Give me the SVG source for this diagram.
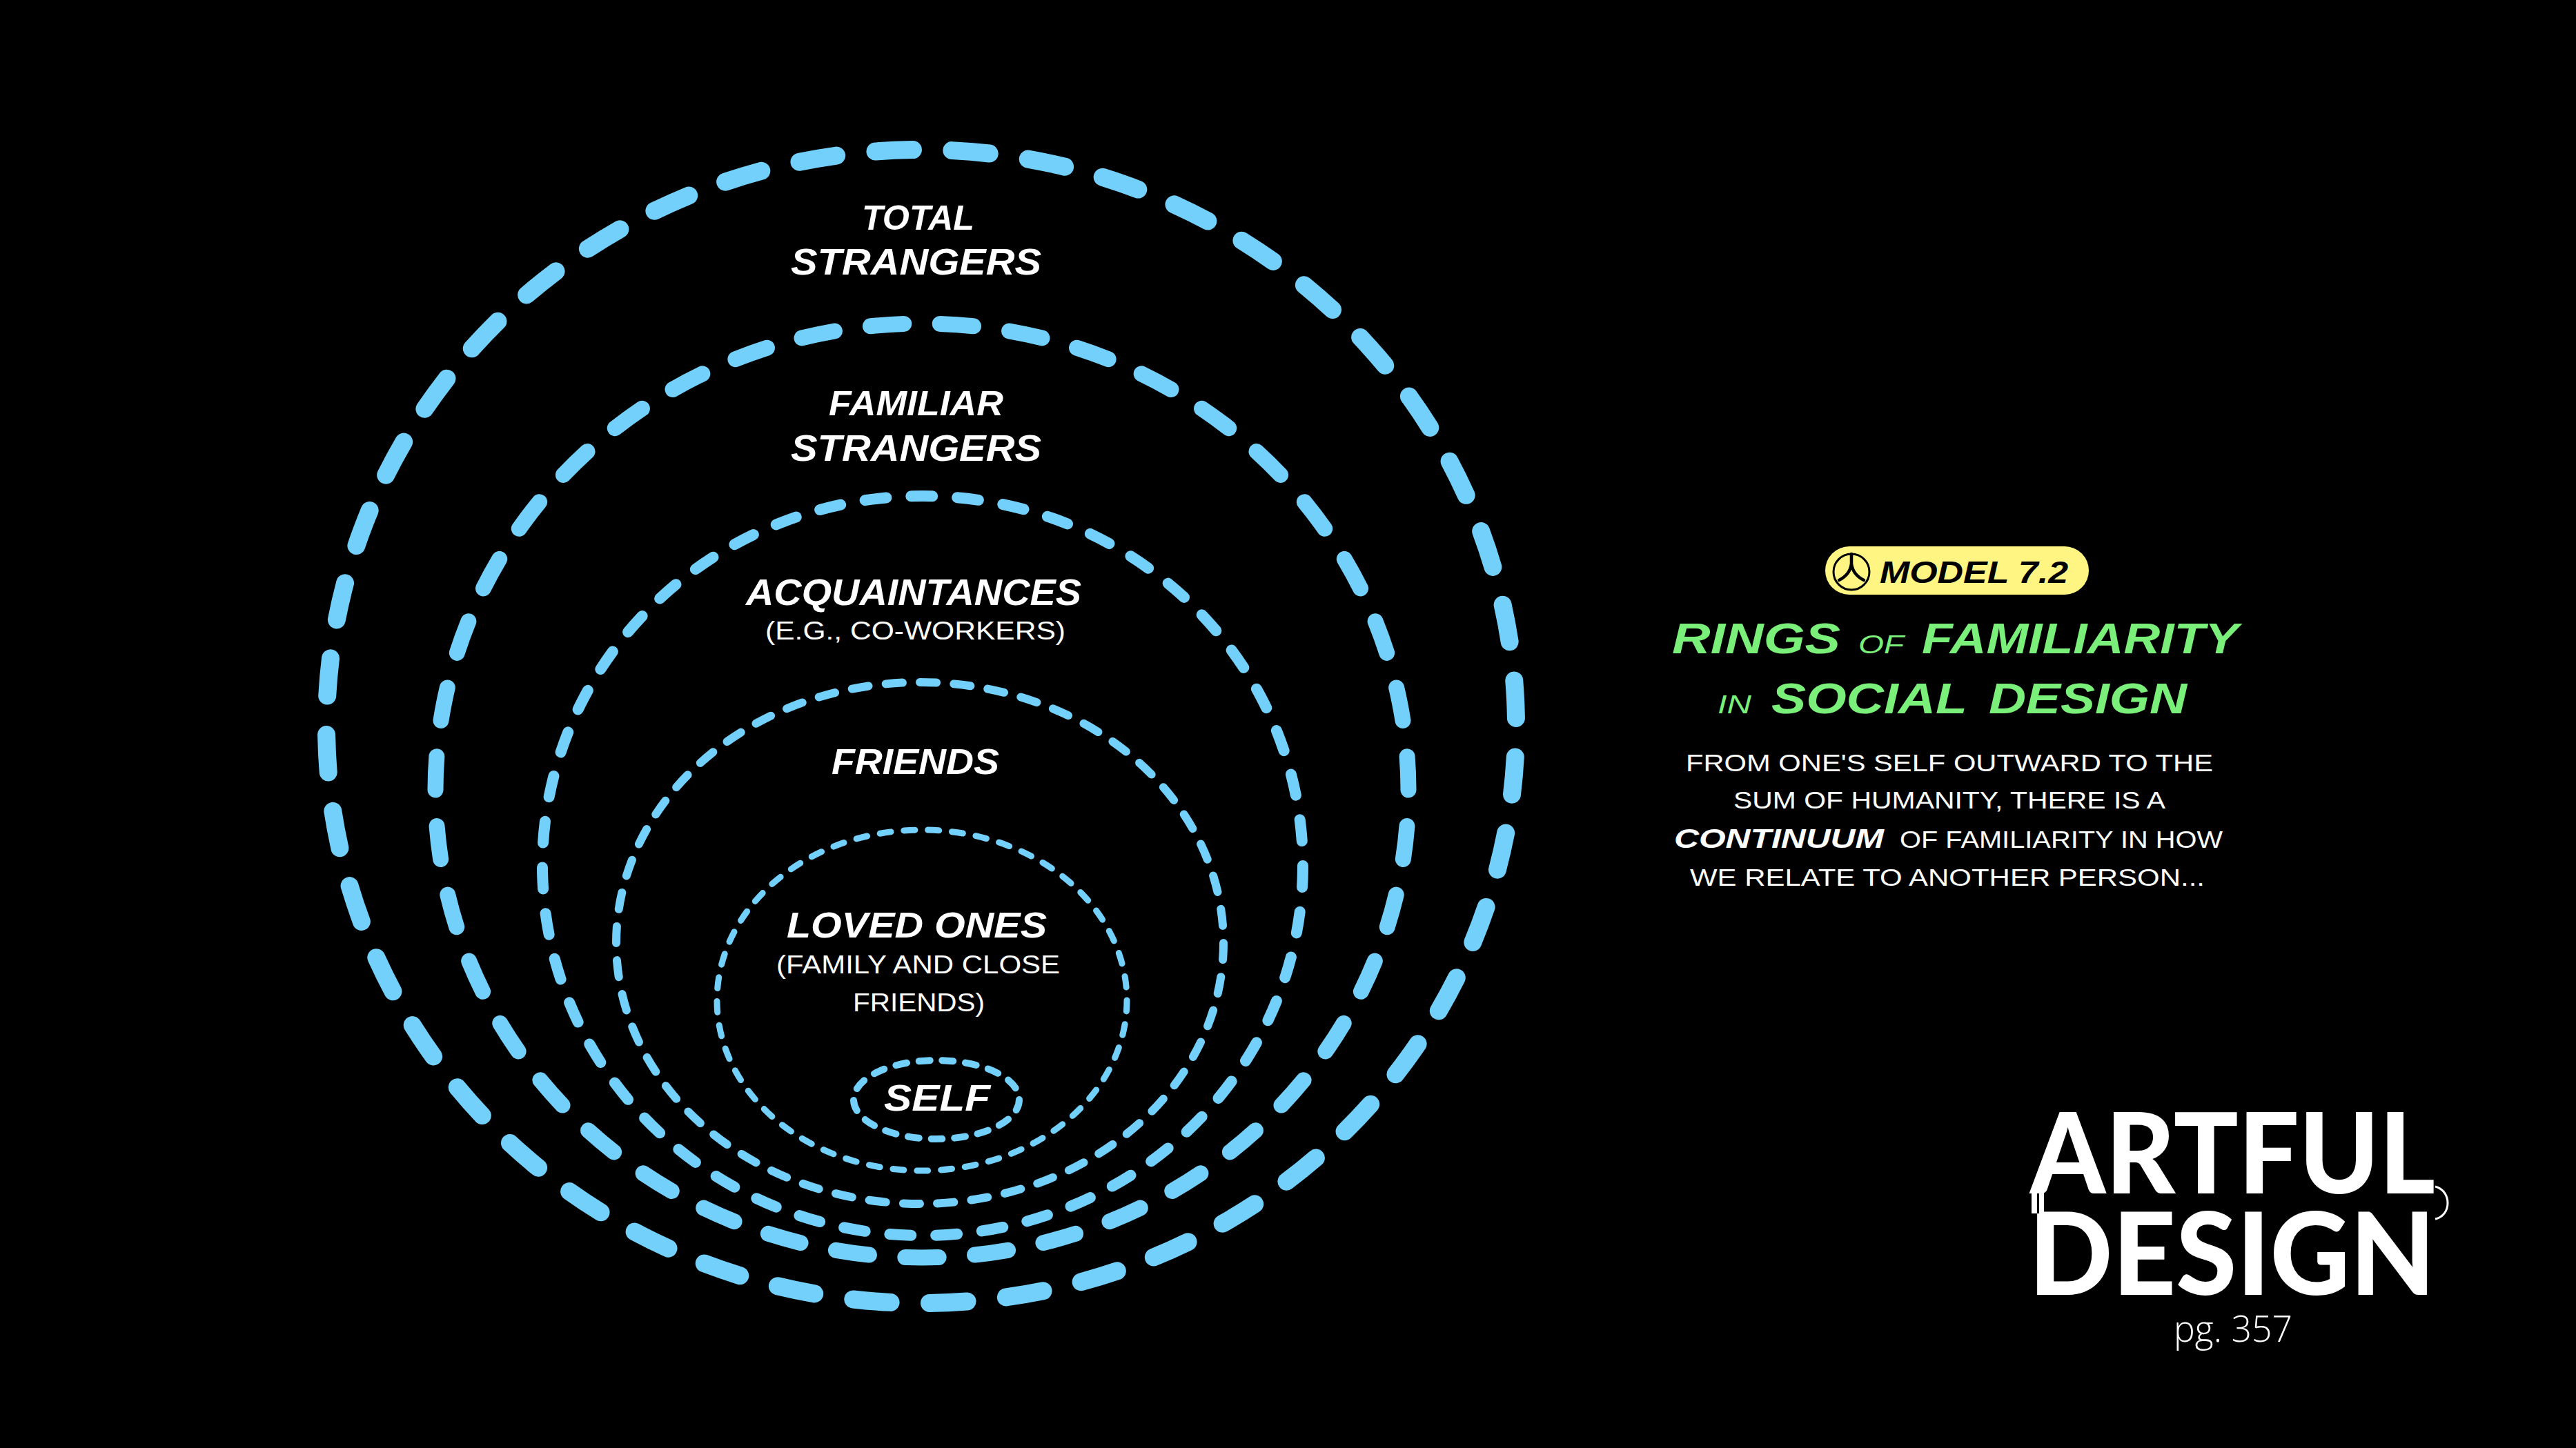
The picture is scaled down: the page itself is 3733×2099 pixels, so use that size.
<svg xmlns="http://www.w3.org/2000/svg" width="3733" height="2099" viewBox="0 0 3733 2099">
<style>
.ring{fill:none;stroke:#72D0FA;stroke-linecap:round}
.lbl{font-family:"Liberation Sans","DejaVu Sans",sans-serif;font-weight:bold;font-style:italic;fill:#fff}
.sub{font-family:"Liberation Sans","DejaVu Sans",sans-serif;font-weight:normal;fill:#fff}
.ttl{font-family:"Liberation Sans","DejaVu Sans",sans-serif;font-weight:bold;font-style:italic;fill:#7AF07A}
.ttls{font-family:"Liberation Sans","DejaVu Sans",sans-serif;font-weight:normal;font-style:italic;fill:#7AF07A}
.body{font-family:"Liberation Sans","DejaVu Sans",sans-serif;font-weight:normal;fill:#fff}
.bodyb{font-family:"Liberation Sans","DejaVu Sans",sans-serif;font-weight:bold;font-style:italic;fill:#fff}
.logo{font-family:Lato,"Open Sans","Liberation Sans",sans-serif;font-weight:900;fill:#fff}
.pg{font-family:"Open Sans","Liberation Sans",sans-serif;font-weight:300;fill:#fff}
</style>
<rect x="0" y="0" width="3733" height="2099" fill="#000"/>

<g id="ring-total-strangers">
<ellipse class="ring" cx="1335" cy="1053" rx="862" ry="836" stroke-width="26" pathLength="5280" stroke-dasharray="54 56" stroke-dashoffset="66"/>
<text class="lbl" x="1249" y="333" font-size="50" textLength="163" lengthAdjust="spacingAndGlyphs">TOTAL</text>
<text class="lbl" x="1146" y="398" font-size="53" textLength="363" lengthAdjust="spacingAndGlyphs">STRANGERS</text>
</g>

<g id="ring-familiar-strangers">
<ellipse class="ring" cx="1336" cy="1146" rx="705" ry="677" stroke-width="23" pathLength="4300" stroke-dasharray="48 52" stroke-dashoffset="49"/>
<text class="lbl" x="1201" y="602" font-size="50" textLength="253" lengthAdjust="spacingAndGlyphs">FAMILIAR</text>
<text class="lbl" x="1146" y="668" font-size="53" textLength="363" lengthAdjust="spacingAndGlyphs">STRANGERS</text>
</g>

<g id="ring-acquaintances">
<ellipse class="ring" cx="1337" cy="1255" rx="551" ry="536" stroke-width="16" pathLength="3417" stroke-dasharray="31 36"/>
<text class="lbl" x="1081" y="877" font-size="53" textLength="486" lengthAdjust="spacingAndGlyphs">ACQUAINTANCES</text>
<text class="sub" x="1109" y="927" font-size="37" textLength="435" lengthAdjust="spacingAndGlyphs">(E.G., CO-WORKERS)</text>
</g>

<g id="ring-friends">
<ellipse class="ring" cx="1333" cy="1367" rx="440" ry="378" stroke-width="12" pathLength="2548" stroke-dasharray="24 25"/>
<text class="lbl" x="1205" y="1122" font-size="51" textLength="243" lengthAdjust="spacingAndGlyphs">FRIENDS</text>
</g>

<g id="ring-loved-ones">
<ellipse class="ring" cx="1336" cy="1450" rx="297" ry="247" stroke-width="9" pathLength="1715" stroke-dasharray="16 19"/>
<text class="lbl" x="1140" y="1359" font-size="52" textLength="377" lengthAdjust="spacingAndGlyphs">LOVED ONES</text>
<text class="sub" x="1125" y="1411" font-size="37" textLength="411" lengthAdjust="spacingAndGlyphs">(FAMILY AND CLOSE</text>
<text class="sub" x="1236" y="1466" font-size="37" textLength="191" lengthAdjust="spacingAndGlyphs">FRIENDS)</text>
</g>

<g id="ring-self">
<ellipse class="ring" cx="1357" cy="1594" rx="120" ry="57" stroke-width="10" pathLength="578" stroke-dasharray="16 18"/>
<text class="lbl" x="1281" y="1610" font-size="53" textLength="154" lengthAdjust="spacingAndGlyphs">SELF</text>
</g>

<g id="model-badge">
<rect x="2645" y="792" width="382" height="70" rx="35" fill="#FFF582"/>
<circle cx="2683" cy="829" r="26" fill="none" stroke="#000" stroke-width="3"/>
<path d="M2683,803 L2683,817 Q2681,833 2665,841 M2683,817 Q2685,833 2701,841" fill="none" stroke="#000" stroke-width="4.5" stroke-linecap="round"/>
<text x="2724" y="845" font-family="Liberation Sans,DejaVu Sans,sans-serif" font-weight="bold" font-style="italic" font-size="44" fill="#000" textLength="273" lengthAdjust="spacingAndGlyphs">MODEL 7.2</text>
</g>

<g id="title">
<text class="ttl" x="2423" y="947" font-size="63" textLength="244" lengthAdjust="spacingAndGlyphs">RINGS</text>
<text class="ttls" x="2693" y="947" font-size="36" textLength="66" lengthAdjust="spacingAndGlyphs">OF</text>
<text class="ttl" x="2785" y="947" font-size="63" textLength="459" lengthAdjust="spacingAndGlyphs">FAMILIARITY</text>
<text class="ttls" x="2489" y="1034" font-size="36" textLength="49" lengthAdjust="spacingAndGlyphs">IN</text>
<text class="ttl" x="2567" y="1034" font-size="63" textLength="284" lengthAdjust="spacingAndGlyphs">SOCIAL</text>
<text class="ttl" x="2882" y="1034" font-size="63" textLength="287" lengthAdjust="spacingAndGlyphs">DESIGN</text>
</g>

<g id="description">
<text class="body" x="2443" y="1118" font-size="35" textLength="764" lengthAdjust="spacingAndGlyphs">FROM ONE'S SELF OUTWARD TO THE</text>
<text class="body" x="2512" y="1172" font-size="35" textLength="626" lengthAdjust="spacingAndGlyphs">SUM OF HUMANITY, THERE IS A</text>
<text class="bodyb" x="2426" y="1229" font-size="38" textLength="304" lengthAdjust="spacingAndGlyphs">CONTINUUM</text>
<text class="body" x="2753" y="1229" font-size="35" textLength="468" lengthAdjust="spacingAndGlyphs">OF FAMILIARITY IN HOW</text>
<text class="body" x="2449" y="1284" font-size="35" textLength="746" lengthAdjust="spacingAndGlyphs">WE RELATE TO ANOTHER PERSON...</text>
</g>

<g id="logo">
<text class="logo" x="2942" y="1730" font-size="162" textLength="587" lengthAdjust="spacingAndGlyphs">ARTFUL</text>
<text class="logo" x="2940" y="1877" font-size="165" textLength="589" lengthAdjust="spacingAndGlyphs">DESIGN</text>
<rect x="2944" y="1728" width="18" height="31" fill="#fff"/>
<rect x="2952" y="1730" width="3" height="29" fill="#000"/>
<path d="M3529,1720 C3553,1726 3553,1762 3529,1767" fill="none" stroke="#fff" stroke-width="3"/>
<text class="pg" x="3150" y="1945" font-size="54" textLength="172" lengthAdjust="spacingAndGlyphs">pg. 357</text>
</g>
</svg>
